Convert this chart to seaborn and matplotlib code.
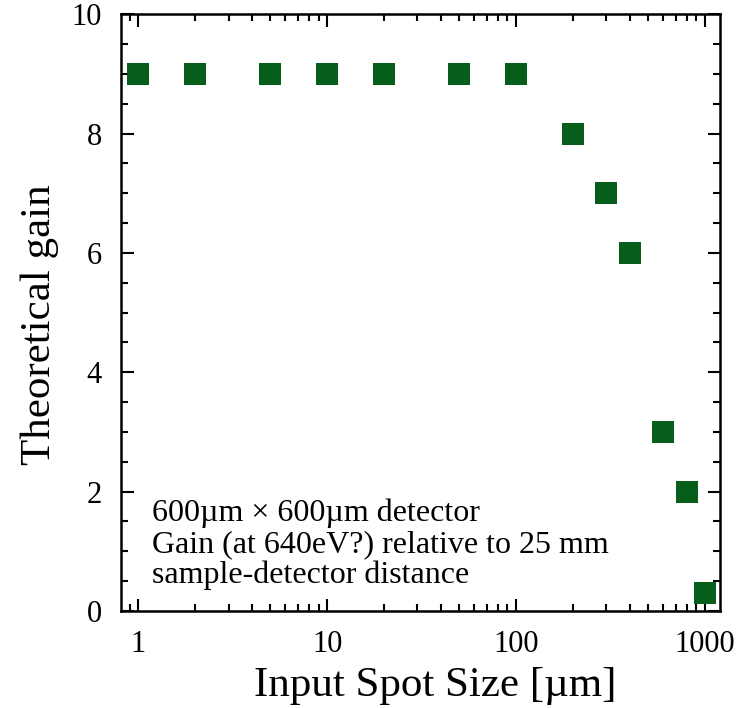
import matplotlib
matplotlib.use("Agg")
import matplotlib.pyplot as plt
import seaborn as sns
import pandas as pd
from matplotlib.ticker import LogLocator, FixedLocator, MultipleLocator, NullFormatter

spot_size = [1, 2, 5, 10, 20, 50, 100, 200, 300, 400, 600, 800, 1000]
gain = [9, 9, 9, 9, 9, 9, 9, 8, 7, 6, 3, 2, 0.3]
x_ticks = [1, 10, 100, 1000]
x_tick_labels = ["1", "10", "100", "1000"]
y_ticks = [0, 2, 4, 6, 8, 10]

sns.set_theme(style="white")
plt.rcParams["font.family"] = ["Liberation Serif", "DejaVu Serif"]
plt.rcParams["text.color"] = "black"
plt.rcParams["axes.labelcolor"] = "black"
plt.rcParams["xtick.color"] = "black"
plt.rcParams["ytick.color"] = "black"

df = pd.DataFrame({"spot": spot_size, "gain": gain})

fig = plt.figure(figsize=(7.43, 7.08), dpi=100)
ax = fig.add_axes([0.163, 0.137, 0.806, 0.843])

sns.scatterplot(data=df, x="spot", y="gain", marker="s", s=250, color="#075e1b",
                linewidth=0, ax=ax, clip_on=False, zorder=3)

ax.set_xscale("log")
ax.set_xlim(0.81, 1200)
ax.set_ylim(0, 10)

ax.xaxis.set_major_locator(FixedLocator(x_ticks))
ax.set_xticklabels(x_tick_labels)
ax.xaxis.set_minor_locator(LogLocator(base=10, subs=range(2, 10)))
ax.xaxis.set_minor_formatter(NullFormatter())
ax.yaxis.set_major_locator(FixedLocator(y_ticks))
ax.yaxis.set_minor_locator(MultipleLocator(0.5))

ax.tick_params(which="both", direction="in", top=True, right=True, bottom=True, left=True,
               color="black", labelcolor="black", width=1.5)
ax.tick_params(which="major", length=9, labelsize=22, pad=14)
ax.tick_params(which="minor", length=5)

for sp in ax.spines.values():
    sp.set_color("black")
    sp.set_linewidth(1.8)

ax.set_xlabel("Input Spot Size [µm]", fontsize=31, color="black")
ax.set_ylabel("Theoretical gain", fontsize=31, color="black")
ax.xaxis.set_label_coords(0.524, -0.093)
ax.yaxis.set_label_coords(-0.104, 0.479)

ax.text(0.052, 0.188,
        "600µm × 600µm detector\nGain (at 640eV?) relative to 25 mm\nsample-detector distance",
        transform=ax.transAxes, fontsize=23, va="top", ha="left", linespacing=1.07,
        color="black")

fig.savefig("out.png", dpi=100)
